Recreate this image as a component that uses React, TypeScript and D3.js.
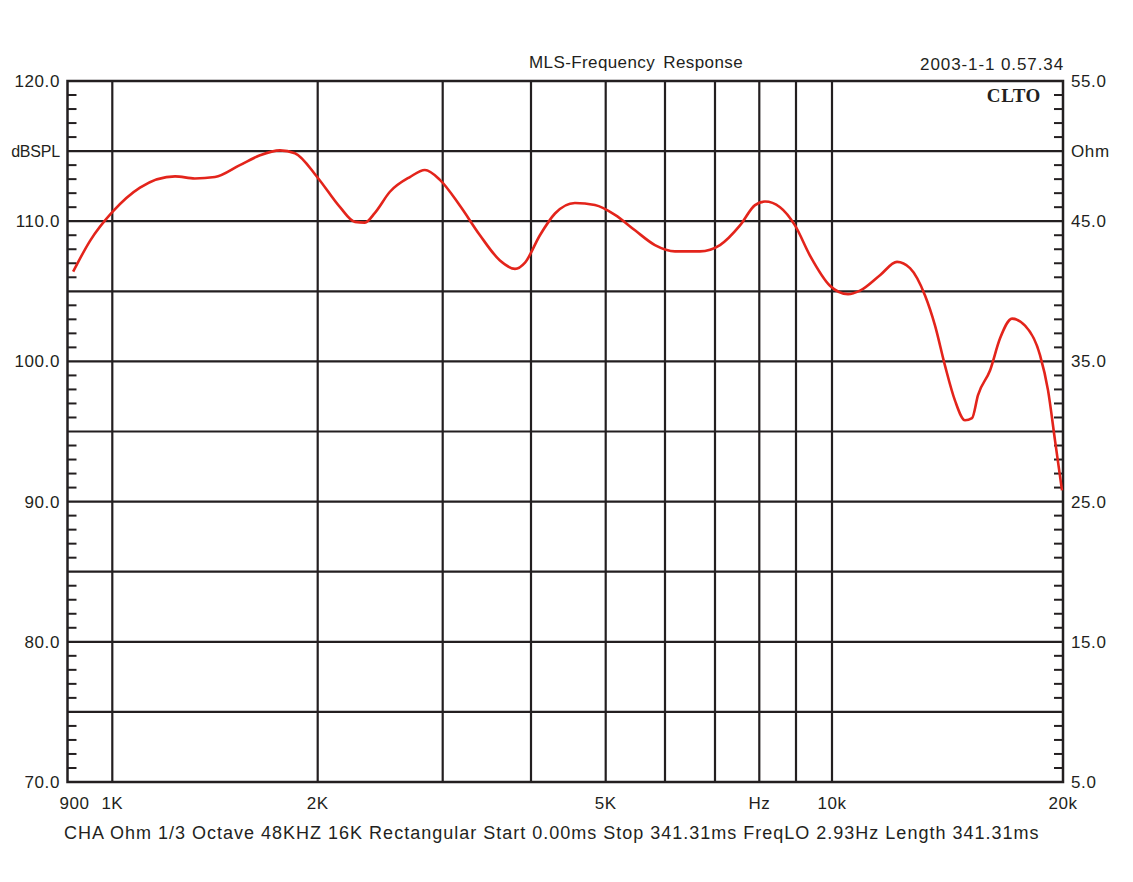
import * as d3 from "d3";

// grid frequencies (vertical lines) and their labels
const gridFreqs = [1000, 2000, 3000, 4000, 5000, 6000, 7000, 8000, 9000, 10000];
const xTickFreqs = [900, 1000, 2000, 5000, 8000, 10000, 20000];
const xTickLabels = ["900", "1K", "2K", "5K", "Hz", "10k", "20k"];

// left axis (dBSPL) and right axis (Ohm)
const leftTicks = [120, 115, 110, 100, 90, 80, 70];
const leftLabels = ["120.0", "dBSPL", "110.0", "100.0", "90.0", "80.0", "70.0"];
const rightTicks = [55, 50, 45, 35, 25, 15, 5];
const rightLabels = ["55.0", "Ohm", "45.0", "35.0", "25.0", "15.0", "5.0"];

// measured response
const freq = [
  912, 949, 1002, 1098, 1236, 1321, 1414, 1538, 1646, 1761, 1852, 2000, 2150, 2257, 2331,
  2408, 2528, 2697, 2832, 2973, 3174, 3387, 3615, 3797, 3923, 4108, 4297, 4561, 4842, 5145,
  5471, 5817, 6188, 6683, 7106, 7548, 7898, 8147, 8550, 8971, 9376, 9941, 10492, 10877,
  11549, 12154, 12637, 13220, 13623, 14036, 14465, 14906, 15222, 15498, 16066, 16558, 17165,
  17848, 18667, 19120, 19528, 19940,
];
const spl = [
  106.4, 108.6, 110.7, 112.4, 113.2, 113.05, 113.15, 114.0, 114.7, 115.05, 114.85, 113.1,
  111.0, 109.95, 109.9, 110.6, 112.1, 113.15, 113.65, 112.95, 111.1, 109.0, 107.2, 106.6,
  107.05, 109.0, 110.55, 111.3, 111.15, 110.45, 109.35, 108.3, 107.85, 107.85, 108.3, 109.7,
  111.15, 111.4, 111.0, 109.7, 107.55, 105.4, 104.8, 105.05, 106.15, 107.1, 106.65, 104.7,
  102.55, 99.7, 97.2, 95.8, 95.95, 97.6, 99.35, 101.65, 103.05, 102.55, 100.45, 97.95, 94.35,
  90.8,
];

const W = 1133;
const H = 882;
const left = 67.5;
const right = 1063;
const top = 81;
const bottom = 782;

// the printed frequency axis is not a perfect log scale, so map it piecewise
const x = d3
  .scaleLog()
  .domain([900, ...gridFreqs, 20000])
  .range([left, 112.3, 317.7, 442.7, 531, 605.7, 665, 715, 759.3, 796, 832, right]);
const y = d3.scaleLinear().domain([70, 120]).range([bottom, top]);
const yR = d3.scaleLinear().domain([5, 55]).range([bottom, top]);

const ink = "#231f20";
const font = "'Liberation Sans', Arial, Helvetica, sans-serif";

export default function App() {
  const pts: [number, number][] = freq.map((f, i) => [f, spl[i]]);
  const line = d3
    .line<[number, number]>()
    .x((d) => x(d[0]))
    .y((d) => y(d[1]))
    .curve(d3.curveMonotoneX);

  const minor = d3.range(70, 121).filter((v) => v % 5 !== 0);
  const minorR = d3.range(5, 56).filter((v) => v % 5 !== 0);
  const hLines = d3.range(75, 120, 5);

  return (
    <svg
      width={W}
      height={H}
      style={{ position: "absolute", left: 0, top: 0, background: "#fff" }}
      fontFamily={font}
    >
      {/* horizontal grid */}
      {hLines.map((v) => (
        <line key={"h" + v} x1={left} x2={right} y1={y(v)} y2={y(v)} stroke={ink} strokeWidth={2.2} />
      ))}
      {/* vertical grid */}
      {gridFreqs.map((f) => (
        <line key={"v" + f} x1={x(f)} x2={x(f)} y1={top} y2={bottom} stroke={ink} strokeWidth={2.2} />
      ))}
      {/* minor ticks */}
      {minor.map((v) => (
        <line key={"ml" + v} x1={left} x2={left + 9} y1={y(v)} y2={y(v)} stroke={ink} strokeWidth={2} />
      ))}
      {minorR.map((v) => (
        <line key={"mr" + v} x1={right - 9} x2={right} y1={yR(v)} y2={yR(v)} stroke={ink} strokeWidth={2} />
      ))}
      {/* frame */}
      <rect x={left} y={top} width={right - left} height={bottom - top} fill="none" stroke={ink} strokeWidth={2.5} />

      {/* response curve */}
      <path d={line(pts) ?? ""} fill="none" stroke="#e3241b" strokeWidth={2.6} strokeLinejoin="round" />

      {/* left labels */}
      {leftTicks.map((v, i) => (
        <text
          key={"ll" + v}
          x={60}
          y={y(v) + 6}
          textAnchor="end"
          fontSize={leftLabels[i] === "dBSPL" ? 16 : 17}
          fill={ink}
          letterSpacing={leftLabels[i] === "dBSPL" ? -0.2 : 0.6}
        >
          {leftLabels[i]}
        </text>
      ))}
      {/* right labels */}
      {rightTicks.map((v, i) => (
        <text key={"rl" + v} x={1071} y={yR(v) + 6} fontSize={17} fill={ink} letterSpacing={0.6}>
          {rightLabels[i]}
        </text>
      ))}
      {/* x labels */}
      {xTickFreqs.map((f, i) => (
        <text
          key={"xl" + f}
          x={f === 900 ? x(f) + 7 : x(f)}
          y={809}
          textAnchor="middle"
          fontSize={17}
          fill={ink}
          letterSpacing={0.5}
        >
          {xTickLabels[i]}
        </text>
      ))}

      {/* titles */}
      <text x={636} y={68} textAnchor="middle" fontSize={17} fill={ink} letterSpacing={0.4} wordSpacing={3}>
        MLS-Frequency Response
      </text>
      <text x={1064} y={70} textAnchor="end" fontSize={17} fill={ink} letterSpacing={0.9}>
        2003-1-1 0.57.34
      </text>
      <text
        x={1041}
        y={102}
        textAnchor="end"
        fontSize={19}
        fontWeight="bold"
        fontFamily="'Liberation Serif', 'Times New Roman', serif"
        fill={ink}
        letterSpacing={0.6}
      >
        CLTO
      </text>
      <text x={64} y={839} fontSize={18} fill={ink} letterSpacing={1}>
        CHA Ohm 1/3 Octave 48KHZ 16K Rectangular Start 0.00ms Stop 341.31ms FreqLO 2.93Hz Length 341.31ms
      </text>
    </svg>
  );
}
